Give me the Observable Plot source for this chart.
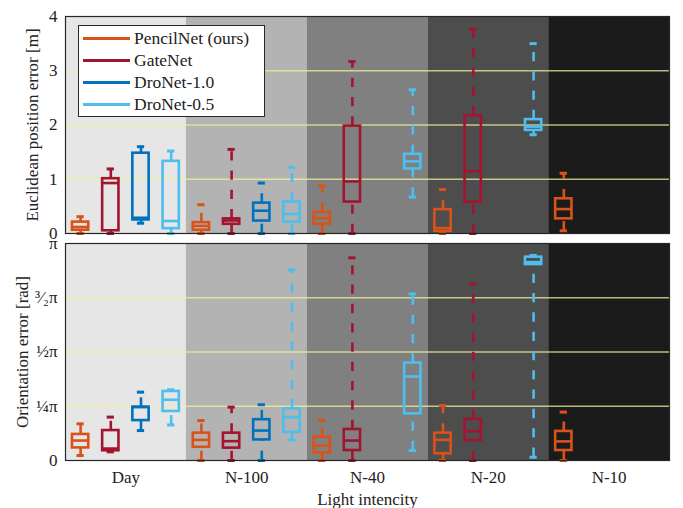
<!DOCTYPE html>
<html>
<head>
<meta charset="utf-8">
<script src="https://cdn.jsdelivr.net/npm/d3@7"></script>
<script src="https://cdn.jsdelivr.net/npm/@observablehq/plot@0.6"></script>
<style>
  body { margin: 0; background: #fff; }
  #wrap { position: relative; width: 683px; height: 508px; font-family: "Liberation Serif", serif; color: #222; background: #fff; }
  #wrap svg { display: block; overflow: visible; }
  .legend { position: absolute; left: 78px; top: 25px; width: 187px; height: 92px; background: #fff; border: 1px solid #262626; box-sizing: border-box; }
  .legend .row { position: absolute; left: 0; height: 22px; line-height: 22px; font-size: 17.5px; white-space: nowrap; }
  .legend .sw { position: absolute; left: 4px; top: 9.5px; width: 47px; height: 3px; }
  .legend .lab { position: absolute; left: 55px; top: 0; }
</style>
</head>
<body>
<div id="wrap"></div>
<script>
// ---------- data ----------
const categories = ["Day", "N-100", "N-40", "N-20", "N-10"];
const bandFills = ["#e6e6e6", "#b3b3b3", "#808080", "#4d4d4d", "#1b1b1b"];
const seriesNames = ["PencilNet (ours)", "GateNet", "DroNet-1.0", "DroNet-0.5"];
const seriesColors = ["#D95319", "#A2142F", "#0072BD", "#4DBEEE"];

// Euclidean position error [m]: [lower whisker, q1, median, q3, upper whisker] per category
const posPencilNet = [[0, 0.06, 0.12, 0.21, 0.31], [0, 0.06, 0.14, 0.20, 0.53], [0, 0.17, 0.28, 0.39, 0.88], [0, 0.04, 0.10, 0.44, 0.81], [0.05, 0.27, 0.45, 0.64, 1.11]];
const posGateNet   = [[0, 0.05, 0.93, 1.01, 1.19], [0, 0.17, 0.24, 0.27, 1.55], [0, 0.58, 0.96, 1.98, 3.17], [0, 0.58, 1.15, 2.17, 3.77], null];
const posDroNet10  = [[0.19, 0.25, 0.29, 1.48, 1.60], [0, 0.23, 0.42, 0.56, 0.93], null, null, null];
const posDroNet05  = [[0, 0.09, 0.23, 1.33, 1.52], [0, 0.21, 0.36, 0.58, 1.22], [0.67, 1.19, 1.33, 1.46, 2.65], [1.82, 1.90, 1.97, 2.10, 3.50], null];

// Orientation error, in multiples of pi
const oriPencilNet = [[0.023, 0.058, 0.092, 0.120, 0.169], [0, 0.061, 0.095, 0.126, 0.184], [0, 0.035, 0.069, 0.107, 0.184], [0, 0.031, 0.095, 0.126, 0.253], [0, 0.046, 0.088, 0.134, 0.223]];
const oriGateNet   = [[0.04, 0.045, 0.055, 0.138, 0.200], [0, 0.057, 0.089, 0.126, 0.246], [0, 0.046, 0.092, 0.143, 0.934], [0, 0.092, 0.135, 0.189, 0.814], null];
const oriDroNet10  = [[0.138, 0.184, 0.246, 0.246, 0.315], [0, 0.095, 0.138, 0.188, 0.257], null, null, null];
const oriDroNet05  = [[0.164, 0.226, 0.280, 0.318, 0.326], [0.095, 0.130, 0.200, 0.238, 0.879], [0.046, 0.215, 0.387, 0.449, 0.768], [0.015, 0.903, 0.914, 0.937, 0.945], null];

const posTicks = [0, 1, 2, 3, 4];
const posGrid = [1, 2, 3];
const oriTicks = [0, 0.25, 0.5, 0.75, 1];
const oriTickLabels = ["0", "¼π", "½π", "³⁄₂π", "π"];
const oriGrid = [0.25, 0.5, 0.75];

// ---------- build ----------
function rowsFrom(seriesStats) {
  const rows = [];
  seriesStats.forEach((stats, si) => {
    stats.forEach((s, ci) => {
      if (!s) return;
      rows.push({cat: categories[ci], ci, si, x: ci * 4 + si, color: seriesColors[si],
                 lo: s[0], q1: s[1], med: s[2], q3: s[3], hi: s[4]});
    });
  });
  return rows;
}

const HALF = 0.27, CAP = 0.12, SW = 2.6, DASH = "9.3,10";
const bands = categories.map((c, i) => ({cat: c, i, fill: bandFills[i]}));
const catTicks = categories.map((c, i) => i * 4 + 1.5);

function panel({rows, ymax, ticks, tickFormat, grid, label, labelOffset, height, marginTop, marginBottom, showX}) {
  return Plot.plot({
    width: 683, height, marginLeft: 65, marginRight: 14, marginTop, marginBottom,
    style: {fontFamily: "Liberation Serif, serif", fontSize: "17px", color: "#222", background: "transparent", overflow: "visible"},
    color: {type: "identity"},
    x: {domain: [-0.5, 19.5], axis: null},
    y: {domain: [0, ymax], axis: null},
    marks: [
      Plot.rect(bands, {x1: d => d.i * 4 - 0.5, x2: d => d.i * 4 + 3.5, y1: 0, y2: ymax, fill: "fill"}),
      Plot.ruleY(grid, {stroke: "#f2f29a", strokeOpacity: 0.75, strokeWidth: 1.3}),
      Plot.ruleX(rows, {x: "x", y1: "lo", y2: "q1", stroke: "color", strokeWidth: SW, strokeDasharray: DASH}),
      Plot.ruleX(rows, {x: "x", y1: "q3", y2: "hi", stroke: "color", strokeWidth: SW, strokeDasharray: DASH}),
      Plot.ruleY(rows, {y: "lo", x1: d => d.x - CAP, x2: d => d.x + CAP, stroke: "color", strokeWidth: SW + 0.4}),
      Plot.ruleY(rows, {y: "hi", x1: d => d.x - CAP, x2: d => d.x + CAP, stroke: "color", strokeWidth: SW + 0.4}),
      Plot.rect(rows, {x1: d => d.x - HALF, x2: d => d.x + HALF, y1: "q1", y2: "q3", fill: "none", stroke: "color", strokeWidth: SW}),
      Plot.ruleY(rows, {y: "med", x1: d => d.x - HALF, x2: d => d.x + HALF, stroke: "color", strokeWidth: SW}),
      Plot.frame({stroke: "#262626", strokeWidth: 1.2}),
      Plot.axisY({ticks, tickFormat, tickSize: 0, tickPadding: 8, label, labelAnchor: "center", labelArrow: "none", labelOffset, fontSize: 17}),
      ...(showX ? [Plot.axisX({ticks: catTicks, tickFormat: (v, i) => categories[i], tickSize: 0, tickPadding: 10,
                               label: "Light intencity", labelAnchor: "center", labelOffset: 44, labelArrow: "none", fontSize: 17})] : [])
    ]
  });
}

const posRows = rowsFrom([posPencilNet, posGateNet, posDroNet10, posDroNet05]);
const oriRows = rowsFrom([oriPencilNet, oriGateNet, oriDroNet10, oriDroNet05]);

const topPanel = panel({rows: posRows, ymax: 4, ticks: posTicks, tickFormat: d => String(d), grid: posGrid,
  label: "Euclidean position error [m]", labelOffset: 40, height: 240, marginTop: 16, marginBottom: 7, showX: false});
const bottomPanel = panel({rows: oriRows, ymax: 1, ticks: oriTicks, tickFormat: (d, i) => oriTickLabels[i], grid: oriGrid,
  label: "Orientation error [rad]", labelOffset: 50, height: 268, marginTop: 3, marginBottom: 48, showX: true});

const wrap = document.getElementById("wrap");
wrap.append(topPanel, bottomPanel);

// legend
const legend = document.createElement("div");
legend.className = "legend";
seriesNames.forEach((name, i) => {
  const row = document.createElement("div");
  row.className = "row";
  row.style.top = (1 + i * 22) + "px";
  row.innerHTML = `<span class="sw" style="background:${seriesColors[i]}"></span><span class="lab"></span>`;
  row.querySelector(".lab").textContent = name;
  legend.append(row);
});
wrap.append(legend);
</script>
</body>
</html>
